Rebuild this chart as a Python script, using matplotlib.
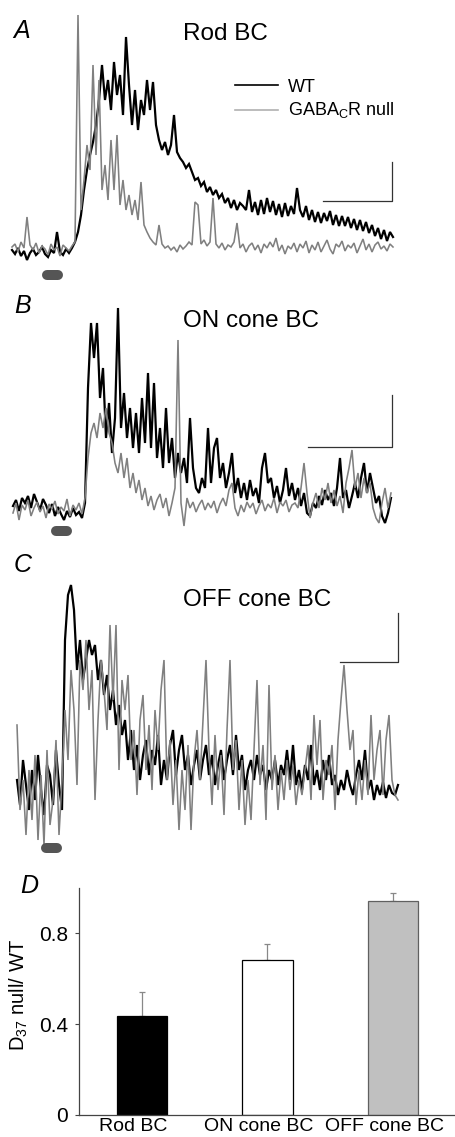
import numpy as np
import matplotlib
matplotlib.use("Agg")
import matplotlib.pyplot as plt
from matplotlib.lines import Line2D

plt.rcParams['font.family'] = ['Liberation Sans', 'DejaVu Sans']
plt.rcParams['mathtext.fontset'] = 'custom'
plt.rcParams['mathtext.rm'] = 'Liberation Sans'
plt.rcParams['mathtext.it'] = 'Liberation Sans:italic'

# ---------------- data (response amplitude, arbitrary units; one sample per time step) ----
rod_wt = [0, -4, 2, -6, -1, -10, -3, 1, -5, -2, 3, -4, -7, 0, -3, 18, -2, -5, 1, -3,
          2, 8, 18, 35, 60, 80, 95, 108, 125, 150,
          185, 150, 170, 140, 188, 155, 175, 135, 213, 165,
          125, 160, 120, 150, 135, 170, 140, 168, 125, 110,
          100, 108, 95, 105, 135, 98, 92, 88, 82, 86,
          78, 70, 72, 64, 68, 58, 63, 55, 60, 52,
          56, 47, 52, 42, 50, 40, 47, 44, 40, 60,
          38, 48, 35, 50, 36, 52, 38, 49, 35, 46,
          33, 47, 34, 44, 36, 62, 40, 33, 44, 30,
          40, 28, 38, 27, 37, 29, 39, 25, 35, 24,
          34, 24, 33, 22, 31, 20, 30, 19, 28, 17,
          25, 14, 22, 11, 20, 9, 18, 13]
rod_null = [3, 6, -2, 8, 2, 33, 5, 0, 7, -3, 4, 1, -5, 6, 0, 3, -6, 5, 2, -1,
            4, 8, 235, 40, 70, 105, 80, 185, 95, 170,
            60, 85, 50, 110, 60, 115, 45, 70, 40, 55,
            35, 50, 30, 68, 25, 18, 12, 8, 5, 25,
            6, 2, 4, 0, 3, -2, 5, 1, 4, 8,
            5, 48, 45, 6, 10, 4, 8, 52, 6, 2,
            7, 0, 5, 3, 8, 27, 2, 6, -2, 4,
            7, 0, 5, -3, 6, 2, 8, 3, 12, -1,
            5, -4, 4, 1, 7, -2, 6, 2, 9, -3,
            5, 0, 8, -2, 4, 10, 1, -4, 6, 3, 9, -1, 5, 2, 7, -3, 4, 11, 0, 6,
            -2, 5, 8, 1, 4, -1, 6, 3]

on_wt = [2, 8, -3, 10, 5, 12, 0, 14, 6, -2, 9, 3, -5, 4, -8, 1, -6, -12, -3, -9, 0, -7, -4, -10,
         5, 120, 185, 150, 185, 110, 140, 70, 105, 55,
         90, 200, 80, 115, 70, 100, 60, 95, 55, 110,
         65, 135, 60, 125, 50, 80, 40, 100, 45, 70,
         30, 55, 35, 50, 25, 90, 40, 20, 15, 30,
         20, 80, 25, 60, 70, 30, 45, 20, 35, 55,
         15, 30, 10, 25, 8, 28, 12, 20, 5, 40,
         55, 25, 30, 10, 22, 5, 18, 40, 12, 25,
         8, 20, 2, 15, -5, -8, 5, 0, 12, 3,
         18, 8, 15, 2, 20, 50, 10, 18, 0, 12,
         25, 10, 30, 45, 15, 35, 20, 5, 12, -8,
         -15, -5, 10]
on_null = [-5, 5, -12, 3, -2, 8, -8, 0, 6, -4, 2, -10, 4, -1, 7, -6, 1, -3, 9, -8, 3, -2, 5, -6,
           10, 50, 75, 85, 70, 95, 80, 100, 75, 65,
           45, 35, 55, 30, 50, 20, 35, 15, 28, 8,
           20, 2, 12, -2, 8, 14, 0, 10, -8, 5,
           20, 168, 5, -18, 10, 0, 6, -4, 3, 8,
           -2, 5, 0, 7, -5, 4, 10, 2, 18, 25,
           0, -8, 3, -4, 6, 0, 5, -6, 2, 8,
           -3, 4, 0, 10, -5, 6, 2, 8, -4, 3,
           5, 0, 20, 45, 15, -10, 5, 15, 0, 20,
           8, 25, 5, 18, 2, 12, -5, 25, 40, 58,
           20, 35, 10, 30, 15, 25, 0, -10, -15, 5,
           20, 0, 15]

off_wt = [10, -15, 30, 5, -20, 20, -10, 35, 0, -25, 25, 15, -15, 40, 5, -20,
          150, 195, 205, 180, 120, 150, 110, 130, 150, 135,
          145, 110, 130, 95, 115, 80, 100, 65, 85, 55,
          70, 30, 60, 20, 45, 10, 35, 50, 15, 40,
          25, 55, 5, 30, 10, 45, 60, 15, 40, 55,
          20, 35, 5, 25, 40, 10, 30, 45, 15, 35,
          5, 25, 40, 10, 30, 45, 15, 55, 20, 35,
          0, 20, 30, 10, 35, 15, 25, 0, 20, 10,
          30, 5, 25, 15, 40, 10, 45, 5, 20, 0,
          25, 10, 45, 5, 20, 0, 30, 10, 35, 5,
          15, -5, 10, 0, 20, 5, -5, 15, 30, 10,
          40, 0, 10, -10, 5, -5, 8, -8, 5, -3, -5, 5]
off_null = [65, -20, 10, -45, 20, -30, 35, -50, 15, -55, 40, -35, -10, 50, -45, 10,
            80, 30, 120, 80, 5, 130, 100, 150, 80, 120,
            -10, 70, 130, 100, 60, 165, 90, 165, 20, 110,
            80, 115, 30, 60, -5, 70, 95, 20, 65, 0,
            80, 40, 100, 130, 10, 50, -15, 30, -40, 20,
            -20, 45, -40, 30, 60, 10, 70, 130, 40, -15,
            55, 0, 35, -25, 60, 130, 20, 50, -20, 30,
            -35, 10, -30, 40, 110, 5, 45, -30, 105, 0,
            35, -20, 20, -10, 30, 0, 25, -15, 10, -5,
            20, 45, -10, 75, 25, 70, -10, 30, 15, 45,
            -20, 50, 90, 125, 80, 40, 60, -15, 20, -10,
            30, -5, 75, 10, 40, 60, -5, 50, 75, 10, -5, -10]

cell_types = ['Rod BC', 'ON cone BC', 'OFF cone BC']
d37_ratio = [0.436, 0.681, 0.942]
d37_sem = [0.106, 0.074, 0.037]
bar_colors = ['#000000', '#ffffff', '#c0c0c0']
bar_edges = ['#000000', '#000000', '#606060']

# ---------------- figure ----------------
W, H = 456, 1137
fig = plt.figure(figsize=(W / 100, H / 100), dpi=100)


def fx(x):
    return x / W


def fy(y):
    return 1 - y / H


def fline(xs, ys, **kw):
    fig.add_artist(Line2D([fx(x) for x in xs], [fy(y) for y in ys], **kw))


BLACK = '#000000'
GRAY = '#808080'

# panel geometry: (top px, bottom px, trace start px, baseline px)
panels = [
    (0, 290, 12, 250, rod_wt, rod_null),
    (290, 560, 13, 508, on_wt, on_null),
    (560, 860, 17, 790, off_wt, off_null),
]
for top, bot, x0, base, wt, null in panels:
    ax = fig.add_axes([0, fy(bot), 1, (bot - top) / H])
    ax.set_xlim(-x0 / 3, (W - x0) / 3)
    ax.set_ylim(base - bot, base - top)
    ax.axis('off')
    ax.plot(np.arange(len(wt)), wt, color=BLACK, lw=1.6, clip_on=False,
            solid_joinstyle='miter')
    ax.plot(np.arange(len(null)), null, color=GRAY, lw=1.15, clip_on=False,
            solid_joinstyle='miter')

# scale bars
SB = '#333333'
fline([323, 392, 392], [201, 201, 162], color=SB, lw=0.9)
fline([308, 392, 392], [447, 447, 395], color=SB, lw=0.9)
fline([340, 398, 398], [662, 662, 613], color=SB, lw=0.9)

# stimulus markers
for cx, cy in [(52.5, 274.5), (61.5, 530.5), (51.5, 847.5)]:
    fline([cx - 5.5, cx + 5.5], [cy, cy], color='#555555', lw=7.2,
          solid_capstyle='round')

# legend
fline([235, 278], [85, 85], color=BLACK, lw=1.2)
fline([235, 278], [110, 110], color='#b0b0b0', lw=1.2)
fig.text(fx(288), fy(92), 'WT', fontsize=13, ha='left', va='baseline')
fig.text(fx(288), fy(115), r'GABA$_\mathregular{C}$R null', fontsize=13,
         ha='left', va='baseline')

# titles
fig.text(fx(183), fy(40), 'Rod BC', fontsize=17.5, ha='left', va='baseline')
fig.text(fx(183), fy(327), 'ON cone BC', fontsize=17.5, ha='left', va='baseline')
fig.text(fx(183), fy(606), 'OFF cone BC', fontsize=17.5, ha='left', va='baseline')

# panel letters
for letter, (lx, ly) in zip('ABCD', [(13, 38), (14, 313), (14, 572), (20, 893)]):
    fig.text(fx(lx), fy(ly), letter, fontsize=18, style='italic',
             ha='left', va='baseline')

# ---------------- panel D ----------------
axD = fig.add_axes([fx(79), fy(1115), (W - 79) / W, (1115 - 888) / H])
idx = np.arange(len(cell_types))
axD.bar(idx, d37_ratio, width=0.4, color=bar_colors, edgecolor=bar_edges,
        linewidth=0.9, zorder=2)
axD.errorbar(idx, d37_ratio, yerr=[np.zeros(len(idx)), d37_sem], fmt='none',
             ecolor='#888888', elinewidth=0.9, capsize=2, capthick=0.9, zorder=1)
axD.set_xlim(-0.5, 2.5)
axD.set_ylim(0, 1.0)
axD.set_yticks([0, 0.4, 0.8])
axD.set_yticklabels(['0', '0.4', '0.8'])
axD.set_xticks(idx - 0.07)
axD.set_xticklabels(cell_types)
axD.tick_params(axis='y', direction='out', length=3, width=0.8, pad=5,
                labelsize=15, color='#444444')
axD.tick_params(axis='x', length=0, pad=2, labelsize=14)
for s in ['top', 'right']:
    axD.spines[s].set_visible(False)
for s in ['left', 'bottom']:
    axD.spines[s].set_color('#444444')
    axD.spines[s].set_linewidth(0.9)
fig.text(fx(19), fy(995), r'D$_\mathregular{37}$ null/ WT', fontsize=14.5,
         rotation=90, ha='center', va='center')

fig.savefig('out.png', dpi=100)
